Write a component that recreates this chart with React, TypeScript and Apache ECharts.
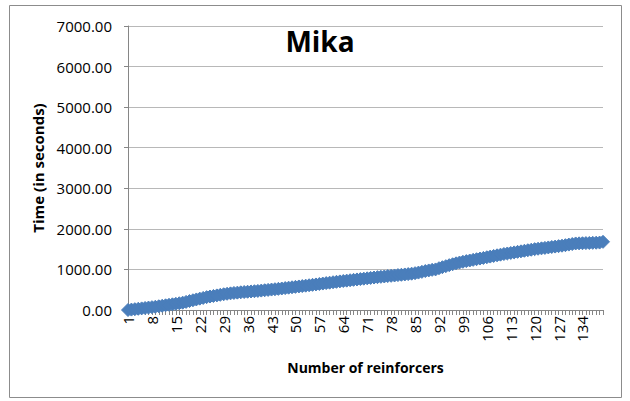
import React, { useEffect, useRef } from "react";
import * as echarts from "echarts";

const titleText = "Mika";
const xAxisName = "Number of reinforcers";
const yAxisName = "Time (in seconds)";

const categories: string[] = [];
for (let i = 1; i <= 140; i++) categories.push(String(i));

const timeValues = [
  0, 10, 20, 30, 40, 50, 60, 70,
  80, 92, 104, 116, 128, 140, 152, 166, 180,
  200, 220, 240, 260, 280, 298, 317,
  332, 346, 360, 374, 388, 400, 410, 420,
  428, 436, 443, 450, 457, 463, 470,
  478, 487, 496, 504, 512, 521, 530,
  540, 550, 560, 570, 580, 590, 600, 610,
  620, 630, 641, 652, 663, 673, 684, 694, 705, 715,
  724, 734, 743, 753, 762, 772, 781, 791, 800, 810,
  818, 826, 835, 843, 851, 860, 868, 876, 885,
  895, 908, 922, 940, 960,
  975, 990, 1000, 1030,
  1055, 1080, 1105, 1128, 1150, 1170, 1188, 1205, 1220,
  1236, 1252, 1268, 1284, 1300, 1316, 1332, 1348, 1364, 1380,
  1393, 1406, 1420, 1433, 1446, 1460, 1473, 1486, 1500,
  1510, 1520, 1531, 1542, 1553, 1563, 1574, 1585,
  1598, 1612, 1626, 1640,
  1643, 1646, 1649, 1652, 1655, 1658, 1662, 1680,
];

const yMin = 0;
const yMax = 7000;
const yInterval = 1000;

const FONT = "'Open Sans', 'Noto Sans', sans-serif";

export default function App() {
  const ref = useRef<HTMLDivElement>(null);
  useEffect(() => {
    if (!ref.current) return;
    const chart = echarts.init(ref.current, null, { renderer: "svg" });
    chart.setOption({
      animation: false,
      backgroundColor: "#ffffff",
      graphic: [
        {
          type: "rect",
          shape: { x: 9.5, y: 5.5, width: 612, height: 392 },
          style: { fill: "none", stroke: "#8c8c8c", lineWidth: 1 },
          silent: true,
        },
      ],
      title: {
        text: titleText,
        left: 315,
        top: 22,
        textAlign: "center",
        textStyle: { fontFamily: FONT, fontWeight: "bold", fontSize: 28, color: "#000" },
      },
      grid: { left: 128, right: 27, top: 26, bottom: 91, containLabel: false },
      xAxis: {
        type: "category",
        data: categories,
        boundaryGap: false,
        name: xAxisName,
        nameLocation: "middle",
        nameGap: 50,
        nameTextStyle: { fontFamily: FONT, fontWeight: "bold", fontSize: 14, color: "#000" },
        axisLine: { lineStyle: { color: "#868686" } },
        axisTick: { show: true, interval: 0, length: 5, lineStyle: { color: "#868686" } },
        axisLabel: {
          interval: 6,
          rotate: 90,
          fontFamily: FONT,
          fontSize: 15,
          color: "#000",
          margin: 6,
        },
        splitLine: { show: false },
      },
      yAxis: {
        type: "value",
        min: yMin,
        max: yMax,
        interval: yInterval,
        name: yAxisName,
        nameLocation: "middle",
        nameGap: 78,
        nameTextStyle: { fontFamily: FONT, fontWeight: "bold", fontSize: 15, color: "#000" },
        axisLine: { show: true, lineStyle: { color: "#868686" } },
        axisTick: { show: true, length: 4, lineStyle: { color: "#868686" } },
        axisLabel: {
          fontFamily: FONT,
          fontSize: 15,
          color: "#000",
          margin: 16,
          formatter: (v: number) => v.toFixed(2),
        },
        splitLine: { show: true, lineStyle: { color: "#b8b8b8" } },
      },
      series: [
        {
          type: "line",
          data: timeValues,
          symbol: "diamond",
          symbolSize: 13,
          showAllSymbol: true,
          lineStyle: { color: "#4a7ebb", width: 2 },
          itemStyle: { color: "#4a7ebb", borderColor: "#4a7ebb" },
        },
      ],
    });
    return () => chart.dispose();
  }, []);
  return (
    <div
      ref={ref}
      style={{ position: "absolute", left: 0, top: 0, width: 630, height: 401 }}
    />
  );
}
